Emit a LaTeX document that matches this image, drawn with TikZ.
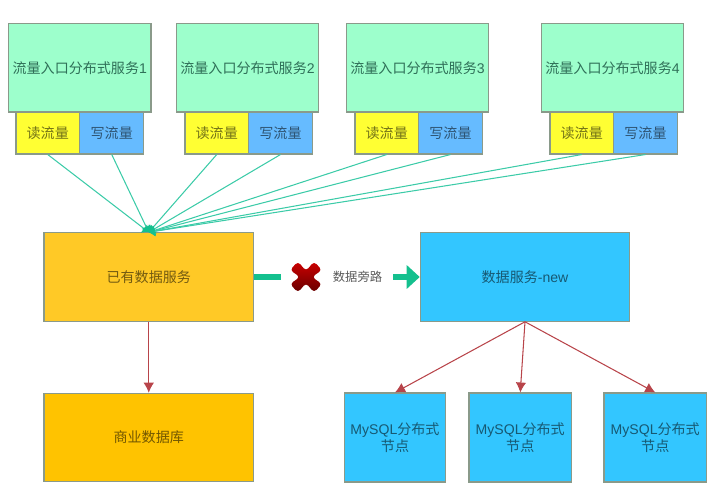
\documentclass[tikz,border=0pt]{standalone}
\usepackage{fontspec}
\setmainfont{Liberation Sans}
\newfontfamily\cjk{Noto Sans CJK SC}
\usetikzlibrary{arrows.meta}
\definecolor{rand}{HTML}{8A9A8A}
\definecolor{dienst}{HTML}{9DFFCC}
\definecolor{dienstt}{HTML}{2F7058}
\definecolor{lesen}{HTML}{FFFF33}
\definecolor{schreiben}{HTML}{66BBFF}
\definecolor{altdaten}{HTML}{FFC926}
\definecolor{altbank}{HTML}{FFC300}
\definecolor{neudaten}{HTML}{33C6FF}
\definecolor{gruen}{HTML}{3CCBA8}
\definecolor{gruenm}{HTML}{14C08E}
\definecolor{rot}{HTML}{B8444A}
\tikzset{
  box/.style={draw=rand,line width=0.6pt,inner sep=0pt,align=center,font=\fontsize{8}{9.5}\selectfont},
  dienstbox/.style={box,fill=dienst,text=dienstt,minimum width=2.85cm,minimum height=1.77cm},
  lesebox/.style={box,fill=lesen,text=black!55!lesen,minimum width=1.27cm,minimum height=0.84cm},
  schreibbox/.style={box,fill=schreiben,text=black!55!schreiben,minimum width=1.28cm,minimum height=0.84cm},
  grossbox/.style={box,minimum width=4.19cm,minimum height=1.77cm},
  knotenbox/.style={box,fill=neudaten,text=black!55!neudaten,minimum height=1.78cm},
  zulauf/.style={-{Latex[length=1.2mm,width=2.2mm,color=gruenm]},gruen,line width=0.6pt},
  abgang/.style={-{Latex[length=2mm,width=2.1mm]},rot,line width=0.6pt},
  bypass/.style={gruenm,line width=3.4pt},
}
\begin{document}
\begin{tikzpicture}[x=0.02cm,y=-0.02cm]
  \useasboundingbox (0,0) rectangle (724,495);
  \node[grossbox,fill=altdaten,text=black!55!altdaten] (exist) at (148.75,277) {\cjk 已有数据服务};
  \node[grossbox,fill=neudaten,text=black!55!neudaten] (neu) at (525,277) {\cjk 数据服务{\rmfamily -new}};
  \node[grossbox,fill=altbank,text=black!55!altbank] (bank) at (148.75,437.5) {\cjk 商业数据库};
  \foreach \n/\x/\r/\w in {1/79.75/47.75/111.75,2/247.5/216.75/280.5,3/417.5/386.75/450.5,4/612.5/581.75/645.5}{
    \node[dienstbox] (dienst\n) at (\x,67.75) {\cjk 流量入口分布式服务{\rmfamily\n}};
    \node[lesebox] (lesen\n) at (\r,133) {\cjk 读流量};
    \node[schreibbox] (schreiben\n) at (\w,133) {\cjk 写流量};
    \draw[zulauf] (lesen\n.south) -- (exist.north);
    \draw[zulauf] (schreiben\n.south) -- (exist.north);
  }
  \foreach \n/\x/\b in {1/395/2.02cm,2/520.25/2.05cm,3/655.25/2.05cm}{
    \node[knotenbox,minimum width=\b] (knoten\n) at (\x,437.5) {MySQL{\cjk 分布式}\\{\cjk 节点}};
    \draw[abgang] (neu.south) -- (knoten\n.north);
  }
  \draw[abgang] (exist.south) -- (bank.north);
  \coordinate (stopp) at (281,277);
  \coordinate (weiter) at (393,277);
  \draw[bypass] (exist.east) -- (stopp);
  \draw[bypass,-{Triangle[length=2.6mm,width=4.6mm]}] (weiter) -- (neu.west);
  \node[text=black!65,font=\fontsize{7}{9}\selectfont,inner sep=0pt] (umweg) at (357.5,277) {\cjk 数据旁路};
  \shade[top color=red!80!black,bottom color=red!40!black,rounded corners=2pt,shift={(306,277)}]
    (-16,-7) -- (-8,-15.5) -- (0,-6) -- (8,-15.5) -- (16,-7) -- (6,0) -- (16,7) -- (8,15.5) -- (0,6) -- (-8,15.5) -- (-16,7) -- (-6,0) -- cycle;
\end{tikzpicture}
\end{document}
